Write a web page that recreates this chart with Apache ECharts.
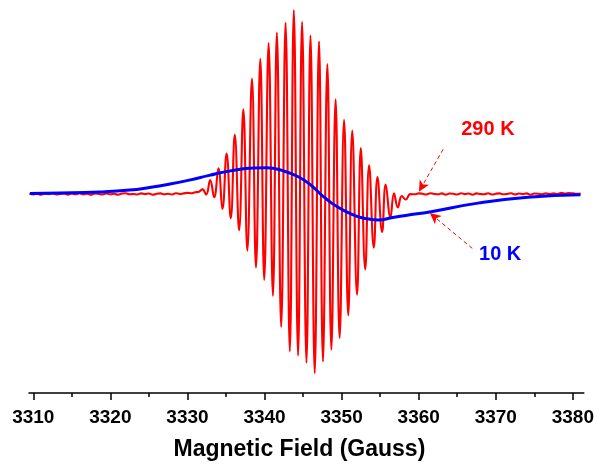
<!DOCTYPE html>
<html>
<head>
<meta charset="utf-8">
<script src="https://cdn.jsdelivr.net/npm/echarts@6/dist/echarts.min.js"></script>
<style>
  html, body { margin: 0; padding: 0; background: #ffffff; }
  #chart { width: 597px; height: 466px; }
</style>
</head>
<body>
<div id="chart"></div>
<script>
// EPR spectra: magnetic field (Gauss) vs. first-derivative signal (arb. units)

// 290 K spectrum: flat baseline before the hyperfine pattern
const red290LeftField = [3309.5, 3310.0, 3310.5, 3311.0, 3311.5, 3312.0, 3312.5, 3313.0, 3313.5, 3314.0,
  3314.5, 3315.0, 3315.5, 3316.0, 3316.5, 3317.0, 3317.5, 3318.0, 3318.5, 3319.0,
  3319.5, 3320.0, 3320.5, 3321.0, 3321.5, 3322.0, 3322.5, 3323.0, 3323.5, 3324.0,
  3324.5, 3325.0, 3325.5, 3326.0, 3326.5, 3327.0, 3327.5, 3328.0, 3328.5, 3329.0,
  3329.5, 3330.0, 3330.5, 3331.0, 3331.5];
const red290LeftSignal = [0.002, -0.003, 0.001, -0.004, 0.003, -0.001, 0.004, -0.003, 0.000, 0.003,
  -0.004, 0.002, -0.002, 0.004, -0.003, 0.001, -0.005, 0.002, 0.000, -0.003,
  0.003, -0.002, 0.001, -0.004, 0.002, 0.004, -0.002, 0.000, -0.003, 0.003,
  -0.001, 0.002, -0.004, 0.001, 0.003, -0.002, 0.001, -0.003, 0.004, 0.000,
  0.003, 0.006, 0.004, 0.009, 0.012];

// 290 K spectrum: hyperfine lines (alternating maxima / minima)
const red290LinesField = [3331.96, 3332.43, 3332.95, 3333.47, 3334.02, 3334.54, 3335.08, 3335.62, 3336.14, 3336.70,
  3337.25, 3337.77, 3338.37, 3338.89, 3339.45, 3339.96, 3340.53, 3341.09, 3341.60, 3342.16,
  3342.73, 3343.28, 3343.80, 3344.35, 3344.87, 3345.44, 3345.96, 3346.51, 3347.07, 3347.58,
  3348.15, 3348.67, 3349.22, 3349.74, 3350.32, 3350.86, 3351.38, 3352.00, 3352.49, 3353.06,
  3353.57, 3354.17, 3354.65, 3355.25, 3355.72, 3356.33, 3356.80, 3357.29, 3357.81, 3358.33,
  3358.91];
const red290LinesSignal = [0.025, -0.004, 0.075, -0.018, 0.140, -0.082, 0.220, -0.133, 0.322, -0.198,
  0.460, -0.308, 0.628, -0.400, 0.735, -0.467, 0.821, -0.554, 0.877, -0.723,
  0.931, -0.856, 1.000, -0.879, 0.936, -0.918, 0.861, -0.975, 0.829, -0.911,
  0.706, -0.847, 0.514, -0.783, 0.403, -0.660, 0.345, -0.548, 0.249, -0.410,
  0.156, -0.292, 0.092, -0.207, 0.051, -0.127, 0.003, -0.073, -0.012, -0.030,
  -0.001];

// 290 K spectrum: baseline after the pattern
const red290RightField = [3359.5, 3360.0, 3360.5, 3361.0, 3361.5, 3362.0, 3362.5, 3363.0, 3363.5, 3364.0,
  3364.5, 3365.0, 3365.5, 3366.0, 3366.5, 3367.0, 3367.5, 3368.0, 3368.5, 3369.0,
  3369.5, 3370.0, 3370.5, 3371.0, 3371.5, 3372.0, 3372.5, 3373.0, 3373.5, 3374.0,
  3374.5, 3375.0, 3375.5, 3376.0, 3376.5, 3377.0, 3377.5, 3378.0, 3378.5, 3379.0,
  3379.5, 3380.0, 3380.5, 3381.0];
const red290RightSignal = [-0.002, 0.003, 0.001, -0.003, 0.004, 0.000, -0.002, 0.003, -0.004, 0.002,
  0.001, -0.003, 0.004, -0.001, 0.002, -0.004, 0.003, 0.000, -0.002, 0.004,
  -0.003, 0.001, 0.003, -0.002, 0.000, 0.004, -0.003, 0.002, -0.001, 0.003,
  -0.004, 0.002, 0.001, -0.002, 0.004, -0.001, 0.003, 0.000, 0.006, 0.002,
  0.005, 0.003, 0.001, 0.002];

// 10 K spectrum: single broad derivative line
const blue10Field = [3309.57, 3313.45, 3318.61, 3322.49, 3325.07, 3327.65, 3330.24, 3332.82, 3335.40, 3338.63,
  3340.31, 3342.25, 3344.44, 3346.12, 3347.41, 3348.71, 3350.26, 3351.81, 3353.10, 3354.78,
  3356.45, 3359.04, 3361.23, 3367.69, 3374.15, 3380.99];
const blue10Signal = [0.003, 0.005, 0.011, 0.021, 0.035, 0.053, 0.075, 0.101, 0.124, 0.141,
  0.142, 0.128, 0.092, 0.044, -0.006, -0.050, -0.089, -0.119, -0.133, -0.141,
  -0.130, -0.112, -0.099, -0.050, -0.018, -0.005];

// Axis ticks
const majorTicks = [3310, 3320, 3330, 3340, 3350, 3360, 3370, 3380];
const minorTicks = [3315, 3325, 3335, 3345, 3355, 3365, 3375];

// Annotation labels and arrows: [field, signal]
const label290 = { text: '290 K', at: [3368.98, 0.348] };
const label10 = { text: '10 K', at: [3370.57, -0.329] };
const arrow290 = { from: [3363.17, 0.243], to: [3360.03, 0.012] };
const arrow10 = { from: [3366.95, -0.296], to: [3361.45, -0.104] };

const zip = (xs, ys) => xs.map((x, i) => [x, ys[i]]);
const redData = zip(red290LeftField, red290LeftSignal)
  .concat(zip(red290LinesField, red290LinesSignal))
  .concat(zip(red290RightField, red290RightSignal));
const blueData = zip(blue10Field, blue10Signal);

const FIELD_MIN = 3309.445;
const FIELD_MAX = 3381.42;
const FONT = '"Liberation Sans", Arial, sans-serif';

function arrowLine(a) {
  return [{ coord: a.from, symbol: 'none' }, { coord: a.to, symbol: 'arrow' }];
}
function textPoint(l, color) {
  return {
    coord: l.at,
    symbol: 'circle',
    symbolSize: 1,
    itemStyle: { color: 'rgba(0,0,0,0)' },
    label: {
      show: true, position: 'inside', formatter: l.text,
      color: color, fontSize: 20, fontWeight: 'bold', fontFamily: FONT
    }
  };
}

const chart = echarts.init(document.getElementById('chart'), null, { renderer: 'canvas' });
chart.setOption({
  animation: false,
  backgroundColor: '#ffffff',
  grid: { left: 29, right: 11, top: 10, bottom: 66, containLabel: false },
  xAxis: [
    {
      type: 'value',
      min: FIELD_MIN,
      max: FIELD_MAX,
      position: 'bottom',
      name: 'Magnetic Field (Gauss)',
      nameLocation: 'middle',
      nameGap: 45,
      nameTextStyle: {
        fontSize: 23, fontWeight: 'bold', color: '#000', fontFamily: FONT,
        padding: [0, 14, 0, 0]
      },
      axisLine: { show: true, onZero: false, lineStyle: { color: '#000', width: 1.5 } },
      axisTick: { show: true, customValues: majorTicks, length: 7, lineStyle: { color: '#000', width: 1.5 } },
      axisLabel: {
        show: true, customValues: majorTicks, margin: 15,
        formatter: (v) => String(Math.round(v)),
        fontSize: 19, fontWeight: 'bold', color: '#000', fontFamily: FONT
      },
      splitLine: { show: false }
    },
    {
      type: 'value',
      min: FIELD_MIN,
      max: FIELD_MAX,
      position: 'bottom',
      axisLine: { show: false, onZero: false },
      axisTick: { show: true, customValues: minorTicks, length: 4, lineStyle: { color: '#000', width: 1.5 } },
      axisLabel: { show: false },
      splitLine: { show: false }
    }
  ],
  yAxis: {
    type: 'value',
    min: -1.0822,
    max: 1.0,
    show: false,
    splitLine: { show: false }
  },
  series: [
    {
      name: '290 K',
      type: 'line',
      xAxisIndex: 0,
      data: redData,
      showSymbol: false,
      smooth: 0.45,
      clip: false,
      z: 2,
      lineStyle: { color: '#ff0000', width: 2.1 },
      markLine: {
        silent: true,
        symbolSize: [8, 11],
        label: { show: false },
        lineStyle: { color: '#ff0000', width: 1, type: [4, 3] },
        data: [arrowLine(arrow290)]
      },
      markPoint: { silent: true, data: [textPoint(label290, '#ff0000')] }
    },
    {
      name: '10 K',
      type: 'line',
      xAxisIndex: 0,
      data: blueData,
      showSymbol: false,
      smooth: 0.5,
      clip: false,
      z: 3,
      lineStyle: { color: '#0000ff', width: 3 },
      markLine: {
        silent: true,
        symbolSize: [8, 11],
        label: { show: false },
        lineStyle: { color: '#ff0000', width: 1, type: [4, 3] },
        data: [arrowLine(arrow10)]
      },
      markPoint: { silent: true, data: [textPoint(label10, '#0000ff')] }
    }
  ]
});
</script>
</body>
</html>
